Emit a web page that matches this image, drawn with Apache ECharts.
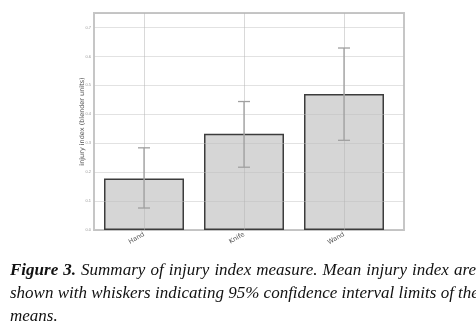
<!DOCTYPE html>
<html>
<head>
<meta charset="utf-8">
<script src="https://cdn.jsdelivr.net/npm/echarts@6/dist/echarts.min.js"></script>
<style>
html,body{margin:0;padding:0;background:#fff;}
#chart{position:absolute;left:0;top:0;width:476px;height:327px;}
#cap{position:absolute;left:10px;top:258px;width:466px;font-family:"Liberation Serif","DejaVu Serif",serif;font-style:italic;font-size:17px;line-height:23px;color:#111;}
#cap .j{text-align:justify;text-align-last:justify;white-space:nowrap;}
</style>
</head>
<body>
<div id="chart"></div>
<div id="cap">
<div class="j"><b>Figure 3.</b> Summary of injury index measure. Mean injury index are</div>
<div class="j">shown with whiskers indicating 95% confidence interval limits of the</div>
<div>means.</div>
</div>
<script>
const categories = ['Hand', 'Knife', 'Wand'];
const meanValues = [0.178, 0.333, 0.470];
const ciLow = [0.076, 0.217, 0.310];
const ciHigh = [0.284, 0.444, 0.629];
const yTicks = [0, 0.1, 0.2, 0.3, 0.4, 0.5, 0.6, 0.7];
const yMax = 0.75;

const chart = echarts.init(document.getElementById('chart'));
const pos = categories.map((c, i) => i + 1);
chart.setOption({
  animation: false,
  grid: {left: 94, right: 72, top: 13, bottom: 97, show: true, borderColor: '#c6c6c6', borderWidth: 2, backgroundColor: 'transparent'},
  xAxis: {
    type: 'value', min: 0.5, max: 3.6,
    axisLine: {show: false}, axisTick: {show: false}, splitLine: {show: false},
    axisLabel: {customValues: pos, formatter: v => categories[Math.round(v) - 1] || '', rotate: 30, fontSize: 6.5, color: '#555', margin: 4, fontFamily: 'DejaVu Sans'}
  },
  yAxis: {
    type: 'value', min: 0, max: yMax, interval: 0.1, z: 3,
    name: 'injury index (blender units)', nameLocation: 'middle', nameGap: 8, nameMoveOverlap: false,
    nameTextStyle: {fontSize: 6.5, color: '#555', fontFamily: 'DejaVu Sans'},
    axisLine: {show: false}, axisTick: {show: false},
    axisLabel: {customValues: yTicks, fontSize: 4, color: '#999', margin: 3, formatter: v => v.toFixed(1)},
    splitLine: {lineStyle: {color: 'rgba(190,190,190,0.45)', width: 1}}
  },
  series: [
    {
      type: 'bar', barWidth: 80,
      data: categories.map((c, i) => [pos[i], meanValues[i]]),
      itemStyle: {color: '#d6d6d6', borderColor: '#3c3c3c', borderWidth: 1.5},
      markLine: {
        silent: true, symbol: 'none', label: {show: false},
        lineStyle: {color: 'rgba(180,180,180,0.5)', width: 1, type: 'solid'},
        data: pos.map(p => ({xAxis: p}))
      }
    },
    {
      type: 'custom', z: 5,
      data: categories.map((c, i) => [pos[i], ciLow[i], ciHigh[i]]),
      renderItem: function (params, api) {
        const lo = api.coord([api.value(0), api.value(1)]);
        const hi = api.coord([api.value(0), api.value(2)]);
        const hw = 6;
        const style = {stroke: '#a0a0a0', lineWidth: 1.3, fill: null};
        return {type: 'group', children: [
          {type: 'line', shape: {x1: lo[0], y1: lo[1], x2: hi[0], y2: hi[1]}, style: style},
          {type: 'line', shape: {x1: lo[0] - hw, y1: lo[1], x2: lo[0] + hw, y2: lo[1]}, style: style},
          {type: 'line', shape: {x1: hi[0] - hw, y1: hi[1], x2: hi[0] + hw, y2: hi[1]}, style: style}
        ]};
      }
    }
  ]
});
</script>
</body>
</html>
